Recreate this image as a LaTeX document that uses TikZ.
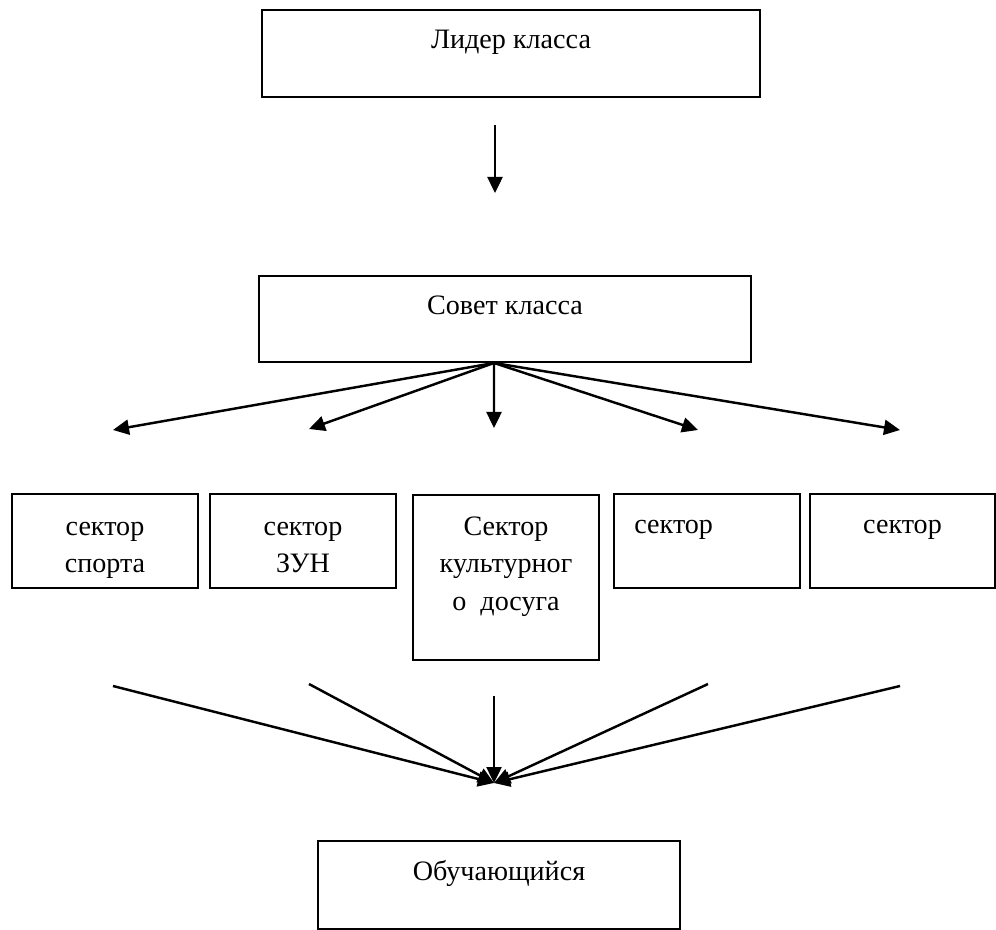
\documentclass[tikz,border=0pt]{standalone}
\usepackage{fontspec}
\setmainfont{Liberation Serif}
\usetikzlibrary{arrows.meta,positioning}

\tikzset{
  blok/.style={draw, line width=1.1pt, inner sep=0pt},
  nadpis/.style={font=\fontsize{16}{21.3}\selectfont, inner sep=0pt, align=center,
    execute at begin node=\strut},
  strelka/.style={line width=1.4pt, -{Triangle[length=0.32cm, width=0.3cm]}},
}

\begin{document}
\begin{tikzpicture}
                    \useasboundingbox (0.000000,0.000000) rectangle (19.920000,-18.600000);

                    % Drawing box lider
                    \node [blok, minimum width=9.96cm, minimum height=1.74cm] (lider) at (10.220000,-1.070000) {};%
                    \node [nadpis, below=0.25cm of lider.north] (lidertext) {Лидер класса};%

                    % Drawing arrow under lider
                    \coordinate (topA) at (9.900000,-2.500000);%
                    \coordinate (topB) at (9.900000,-3.860000);%
                    \draw [strelka] (topA) -- (topB);%

                    % Drawing box sovet
                    \node [blok, minimum width=9.84cm, minimum height=1.72cm] (sovet) at (10.100000,-6.380000) {};%
                    \node [nadpis, below=0.25cm of sovet.north] (sovettext) {Совет класса};%

                    % Marking hub and arrow ends
                    \coordinate (hub) at ([xshift=-0.22cm]sovet.south);%
                    \coordinate (e1) at (2.260000,-8.600000);%
                    \coordinate (e2) at (6.180000,-8.580000);%
                    \coordinate (e3) at (9.880000,-8.560000);%
                    \coordinate (e4) at (13.960000,-8.600000);%
                    \coordinate (e5) at (18.000000,-8.600000);%

                    % Drawing arrows from sovet
                    \foreach \e in {e1,e2,e3,e4,e5}
                      \draw [strelka] (hub) -- (\e);%

                    % Drawing sector boxes
                    \node [blok, minimum width=3.72cm, minimum height=1.88cm] (s1) at (2.100000,-10.820000) {};%
                    \node [blok, minimum width=3.72cm, minimum height=1.88cm] (s2) at (6.060000,-10.820000) {};%
                    \node [blok, minimum width=3.72cm, minimum height=3.30cm] (s3) at (10.120000,-11.550000) {};%
                    \node [blok, minimum width=3.72cm, minimum height=1.88cm] (s4) at (14.140000,-10.820000) {};%
                    \node [blok, minimum width=3.70cm, minimum height=1.88cm] (s5) at (18.050000,-10.820000) {};%

                    % Marking sector texts
                    \node [nadpis, below=0.57cm of s1.north] (s1text) {сектор\\спорта};%
                    \node [nadpis, below=0.57cm of s2.north] (s2text) {сектор\\ЗУН};%
                    \node [nadpis, below=0.45cm of s3.north] (s3text) {Сектор\\культурног\\о~ досуга};%
                    \node [nadpis, align=left, below right=0.27cm and 0.42cm of s4.north west] (s4text) {сектор};%
                    \node [nadpis, below=0.27cm of s5.north] (s5text) {сектор};%

                    % Marking line starts and meeting point
                    \coordinate (b1) at (2.260000,-13.720000);%
                    \coordinate (b2) at (6.180000,-13.680000);%
                    \coordinate (b3) at (9.880000,-13.920000);%
                    \coordinate (b4) at (14.160000,-13.680000);%
                    \coordinate (b5) at (18.000000,-13.720000);%
                    \coordinate (meet) at (9.880000,-15.660000);%

                    % Drawing arrows to obuch
                    \foreach \b in {b1,b2,b3,b4,b5}
                      \draw [strelka] (\b) -- (meet);%

                    % Drawing box obuch
                    \node [blok, minimum width=7.24cm, minimum height=1.76cm] (obuch) at (9.980000,-17.700000) {};%
                    \node [nadpis, below=0.27cm of obuch.north] (obuchtext) {Обучающийся};%
\end{tikzpicture}
\end{document}
